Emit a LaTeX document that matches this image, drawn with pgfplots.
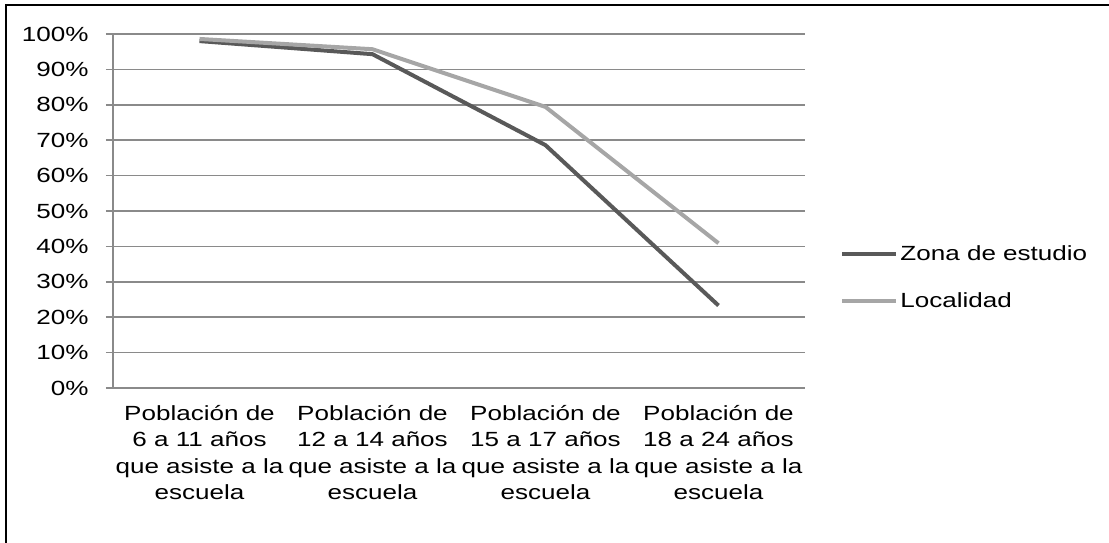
\documentclass[border=0pt]{standalone}
\usepackage{fontspec}
\setmainfont{Liberation Sans}[FakeStretch=1.27]
\usepackage{pgfplots}
\pgfplotsset{compat=1.18}
\definecolor{zona}{HTML}{595959}
\definecolor{loc}{HTML}{A6A6A6}
\definecolor{gridc}{HTML}{8A8A8A}
\newcommand{\lf}{\fontsize{20.5}{26.5}\selectfont}
\begin{document}
\begin{tikzpicture}[x=1pt,y=1pt]
\path[use as bounding box] (0,0) rectangle (1109,542);
\draw[black,line width=1.5pt] (6,-5) -- (6,537) -- (1115,537);
\begin{axis}[
  at={(113pt,154pt)}, anchor=south west,
  scale only axis, width=692pt, height=354pt,
  xmin=-0.5, xmax=3.5, ymin=0, ymax=100,
  axis lines*=left,
  axis line style={gridc, line width=1.5pt},
  tick align=outside,
  xtick={0,1,2,3},
  major x tick style={draw=none},
  xticklabels={{Población de\\6 a 11 años\\que asiste a la\\escuela},
               {Población de\\12 a 14 años\\que asiste a la\\escuela},
               {Población de\\15 a 17 años\\que asiste a la\\escuela},
               {Población de\\18 a 24 años\\que asiste a la\\escuela}},
  xticklabel style={align=center, font=\lf, yshift=-6.5pt},
  extra x ticks={-0.5,0.5,1.5,2.5,3.5},
  extra x tick labels={},
  extra x tick style={major tick length=7pt, tick style={gridc, line width=1.5pt}},
  ytick={0,10,...,100},
  yticklabels={0\%,10\%,20\%,30\%,40\%,50\%,60\%,70\%,80\%,90\%,100\%},
  yticklabel style={font=\lf, xshift=-14pt},
  major tick length=7pt,
  tick style={gridc, line width=1.5pt},
  ymajorgrids, grid style={gridc, line width=1.5pt},
  legend style={at={(1.051,0.313)}, anchor=west, draw=none, fill=none,
    font=\lf, inner sep=0pt, row sep=27pt},
  legend cell align=left,
  legend image code/.code={\draw[#1] (0pt,0pt) -- (54pt,0pt);},
]
\addplot[zona, line width=4pt, line join=round] coordinates {(0,98.0) (1,94.3) (2,68.6) (3,23.3)};
\addlegendentry{Zona de estudio}
\addplot[loc, line width=4pt, line join=round] coordinates {(0,98.6) (1,95.7) (2,79.4) (3,40.9)};
\addlegendentry{Localidad}
\end{axis}
\end{tikzpicture}
\end{document}
